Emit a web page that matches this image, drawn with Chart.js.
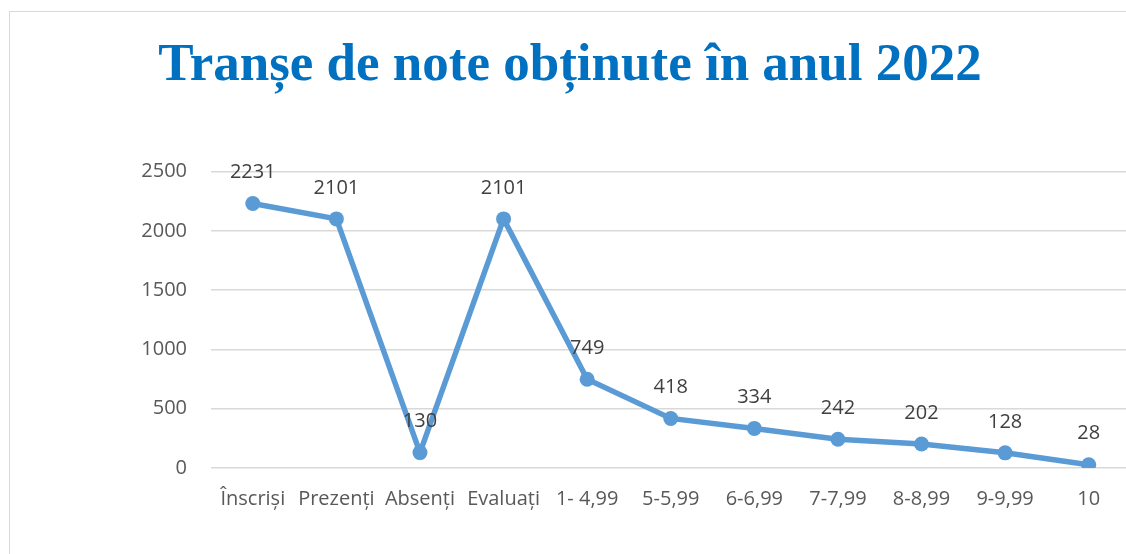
<!DOCTYPE html>
<html>
<head>
<meta charset="utf-8">
<script src="https://cdn.jsdelivr.net/npm/chart.js@4/dist/chart.umd.min.js"></script>
<style>
  html, body { margin: 0; padding: 0; background: #fff; overflow: hidden; }
  #frame {
    position: absolute; left: 9px; top: 11px;
    width: 1140px; height: 560px;
    border: 1px solid #d9d9d9; background: #fff;
  }
  #myChart { position: absolute; left: -8px; top: 0; }
</style>
</head>
<body>
<div id="frame"><canvas id="myChart" width="1136" height="542"></canvas></div>
<script>
'use strict';

let categories = ['Înscriși', 'Prezenți', 'Absenți', 'Evaluați', '1- 4,99', '5-5,99', '6-6,99', '7-7,99', '8-8,99', '9-9,99', '10'];
let values = [2231, 2101, 130, 2101, 749, 418, 334, 242, 202, 128, 28];
let y_ticks = [0, 500, 1000, 1500, 2000, 2500];

let chart_title = 'Tranșe de note obținute în anul 2022';

// labels above each point
let value_labels = {
  id: 'value_labels',
  afterDatasetsDraw(chart) {
    let ctx = chart.ctx;
    let meta = chart.getDatasetMeta(0);
    ctx.save();
    ctx.font = '20px "Open Sans"';
    ctx.fillStyle = '#404040';
    ctx.textAlign = 'center';
    ctx.textBaseline = 'middle';
    for (let i = 0; i < meta.data.length; i++) {
      let pt = meta.data[i];
      ctx.fillText(String(values[i]), pt.x, pt.y - 31);
    }
    ctx.restore();
  }
};

let ctx = document.getElementById('myChart').getContext('2d');
let myChart = new Chart(ctx, {
  type: 'line',
  data: {
    labels: categories,
    datasets: [{
      data: values,
      borderColor: '#5B9BD5',
      backgroundColor: '#5B9BD5',
      borderWidth: 5.5,
      pointRadius: 7.5,
      pointHoverRadius: 7.5,
      pointBorderWidth: 0,
      tension: 0
    }]
  },
  options: {
    responsive: false,
    animation: false,
    layout: { padding: { left: 0, right: 0, top: 0, bottom: 32 } },
    plugins: {
      legend: { display: false },
      tooltip: { enabled: false },
      title: {
        display: true,
        text: chart_title,
        color: '#0070C0',
        font: { family: '"Liberation Serif", "Times New Roman", serif', size: 53, weight: 'bold' },
        padding: { top: 23, bottom: 73 }
      }
    },
    scales: {
      x: {
        offset: true,
        grid: { display: false },
        border: { display: false },
        ticks: {
          color: '#595959',
          font: { family: '"Open Sans"', size: 20 },
          padding: 11,
          autoSkip: false,
          maxRotation: 0
        }
      },
      y: {
        min: 0,
        max: 2500,
        afterBuildTicks(scale) {
          scale.ticks = y_ticks.map(v => ({ value: v }));
        },
        afterFit(scale) {
          scale.width = 209;
        },
        grid: { color: '#d9d9d9', lineWidth: 1.5, drawTicks: false },
        border: { display: false },
        ticks: {
          color: '#595959',
          font: { family: '"Open Sans"', size: 20 },
          padding: 24,
          callback: v => String(v)
        }
      }
    }
  },
  plugins: [value_labels]
});
</script>
</body>
</html>
